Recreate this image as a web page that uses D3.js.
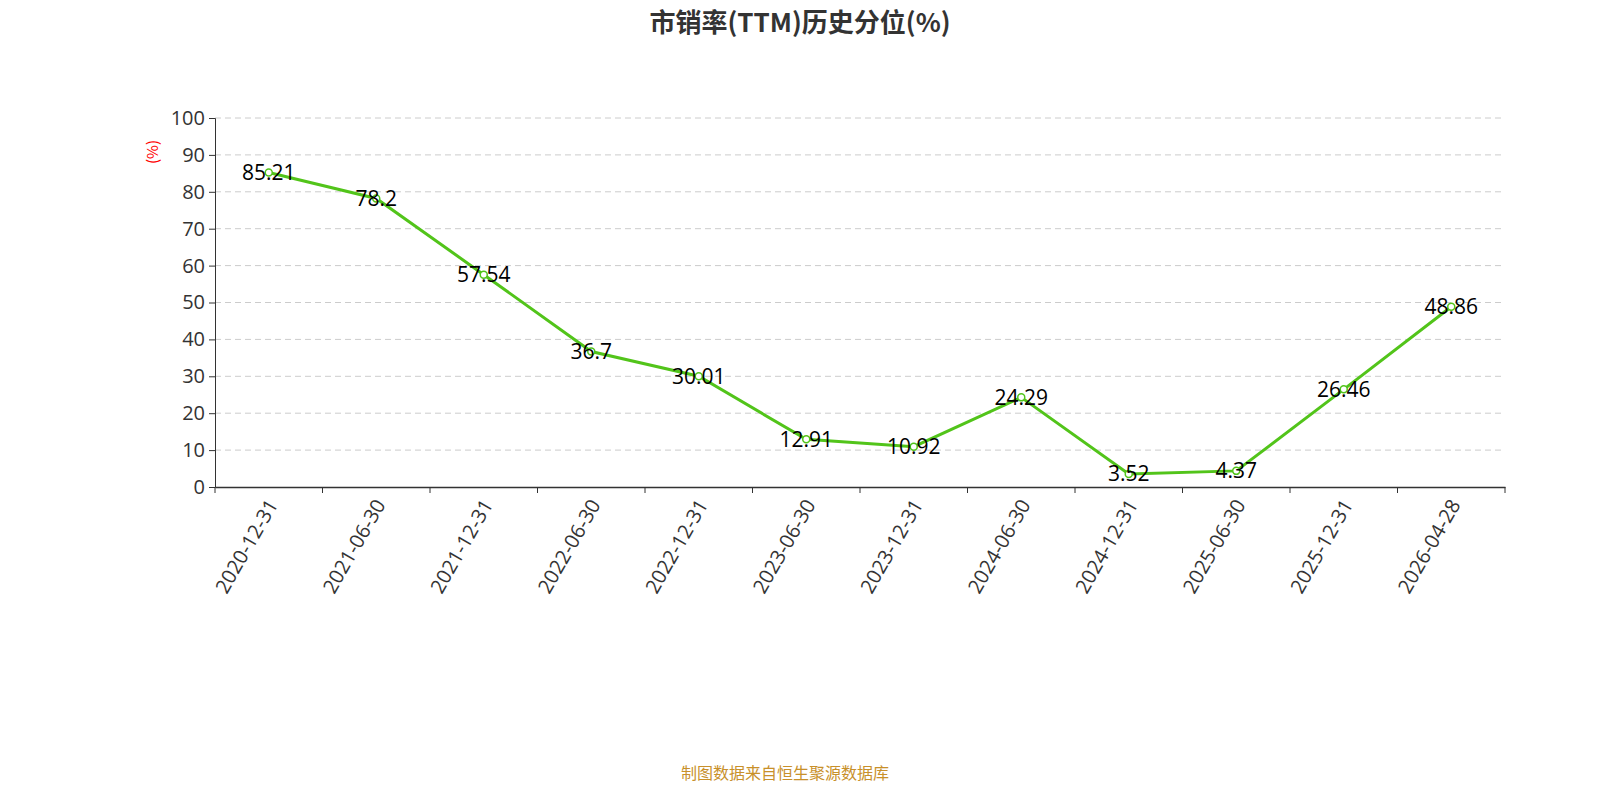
<!DOCTYPE html>
<html><head><meta charset="utf-8">
<script src="https://cdn.jsdelivr.net/npm/d3@7"></script>
<style>body{margin:0;background:#fff;font-family:"Noto Sans CJK SC","Open Sans",sans-serif}</style>
</head><body>
<svg id="chart" width="1600" height="800"></svg>
<script>
const dates = ["2020-12-31","2021-06-30","2021-12-31","2022-06-30","2022-12-31","2023-06-30","2023-12-31","2024-06-30","2024-12-31","2025-06-30","2025-12-31","2026-04-28"];
const values = [85.21,78.2,57.54,36.7,30.01,12.91,10.92,24.29,3.52,4.37,26.46,48.86];
const yTicks = [0,10,20,30,40,50,60,70,80,90,100];

const svg = d3.select("#chart");
const plotL = 215, plotR = 1505, plotT = 118, plotB = 487;
const x = d3.scaleBand().domain(dates).range([plotL, plotR]);
const y = d3.scaleLinear().domain([0, 100]).range([plotB, plotT]);
const cx = d => x(d) + x.bandwidth() / 2;

svg.append("text").attr("x", 800).attr("y", 32).attr("text-anchor", "middle")
  .attr("font-size", 26).attr("font-weight", "bold").attr("fill", "#333")
  .text("市销率(TTM)历史分位(%)");

svg.append("g").selectAll("line").data(yTicks.filter(t => t > 0)).join("line")
  .attr("x1", plotL).attr("x2", plotR).attr("y1", y).attr("y2", y)
  .attr("stroke", "#ccc").attr("stroke-dasharray", "6,4");

const ya = svg.append("g").attr("transform", `translate(${plotL},0)`)
  .call(d3.axisLeft(y).tickValues(yTicks).tickSize(6).tickPadding(4));
ya.selectAll("text").attr("font-size", 20).attr("fill", "#333").attr("font-family", "Open Sans");
ya.selectAll("path,line").attr("stroke", "#333");

const xa = svg.append("g").attr("transform", `translate(0,${plotB})`)
  .call(d3.axisBottom(x).tickSize(0).tickFormat(""));
xa.select("path").attr("stroke", "#333").attr("stroke-width", 1.5);
xa.selectAll(".tk").data(x.domain().concat(["end"])).join("line").attr("class", "tk")
  .attr("x1", (d, i) => plotL + i * x.bandwidth()).attr("x2", (d, i) => plotL + i * x.bandwidth())
  .attr("y1", 0).attr("y2", 6).attr("stroke", "#333");
xa.selectAll(".lb").data(dates).join("text").attr("class", "lb")
  .attr("transform", d => `translate(${cx(d) + 4},14) rotate(-60)`)
  .attr("text-anchor", "end").attr("dy", "0.35em")
  .attr("font-size", 20).attr("fill", "#333").attr("font-family", "Open Sans").text(d => d);

svg.append("text").attr("transform", "translate(158,152) rotate(-90)").attr("text-anchor", "middle")
  .attr("font-size", 15).attr("fill", "red").text("(%)");

const pts = dates.map((d, i) => ({d, v: values[i]}));
svg.append("path").datum(pts)
  .attr("d", d3.line().x(p => cx(p.d)).y(p => y(p.v)))
  .attr("fill", "none").attr("stroke", "#52c41a").attr("stroke-width", 3);
svg.append("g").selectAll("circle").data(pts).join("circle")
  .attr("cx", p => cx(p.d)).attr("cy", p => y(p.v)).attr("r", 3.5)
  .attr("fill", "#fff").attr("stroke", "#52c41a").attr("stroke-width", 1.5);
svg.append("g").selectAll("text").data(pts).join("text")
  .attr("x", p => cx(p.d)).attr("y", p => y(p.v)).attr("dy", "0.35em")
  .attr("text-anchor", "middle").attr("font-size", 21).attr("fill", "#000")
  .attr("font-family", "Open Sans").text(p => p.v);

svg.append("text").attr("x", 785).attr("y", 779).attr("text-anchor", "middle")
  .attr("font-size", 16).attr("fill", "#c8902a").text("制图数据来自恒生聚源数据库");
</script>
</body></html>
